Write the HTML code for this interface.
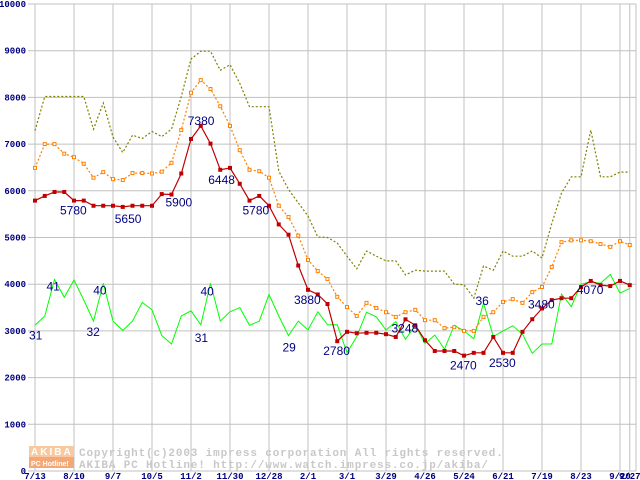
<!DOCTYPE html>
<html><head><meta charset="utf-8"><style>
html,body{margin:0;padding:0;background:#fff;width:640px;height:480px;overflow:hidden}
svg{display:block}
.tk{font-family:"Liberation Mono","DejaVu Sans Mono",monospace;font-size:9px;font-weight:bold;fill:#000080}
.lb{font-family:"Liberation Sans",sans-serif;font-size:12px;fill:#000080}
.wm{font-family:"Liberation Mono",monospace;font-size:11px;font-weight:bold;fill:#c8c8c8;letter-spacing:0.85px}
</style></head><body>
<svg id="chart" width="640" height="480" viewBox="0 0 640 480" xmlns="http://www.w3.org/2000/svg">
<g id="grid"></g>
<g id="wmark">
<rect x="29" y="446" width="45" height="11" fill="#f8c8a0"/>
<rect x="29" y="457" width="45" height="11" fill="#f4a878"/>
<text x="31" y="455" font-family="Liberation Sans,sans-serif" font-size="10" font-weight="bold" fill="#fff" letter-spacing="2">AKIBA</text>
<text x="31" y="466" font-family="Liberation Sans,sans-serif" font-size="7" font-weight="bold" fill="#fff">PC Hotline!</text>
<text class="wm" x="79" y="456">Copyright(c)2003 impress corporation All rights reserved.</text>
<text class="wm" x="79" y="468">AKIBA PC Hotline!  http://www.watch.impress.co.jp/akiba/</text>
</g>
<g id="series"></g>
<g id="labels"></g>
</svg>
<script>
const xLabels=["7/13","8/10","9/7","10/5","11/2","11/30","12/28","2/1","3/1","3/29","4/26","5/24","6/21","7/19","8/23","9/20","9/27"];
const xLabelWeeks=[0,4,8,12,16,20,24,28,32,36,40,44,48,52,56,60,61];
const yTicks=[0,1000,2000,3000,4000,5000,6000,7000,8000,9000,10000];
const redVals=[5790,5890,5975,5975,5790,5790,5680,5680,5680,5655,5680,5680,5680,5930,5920,6370,7110,7390,7010,6450,6490,6150,5790,5890,5680,5280,5060,4400,3880,3780,3576,2780,2980,2950,2960,2960,2930,2870,3248,3120,2800,2570,2570,2570,2470,2530,2530,2870,2530,2530,2980,3250,3480,3660,3700,3700,3940,4070,3980,3960,4070,3980];
const orangeVals=[6490,7000,7000,6795,6720,6580,6280,6400,6250,6230,6380,6380,6370,6410,6600,7300,8100,8370,8180,7810,7390,6870,6450,6420,6280,5680,5440,5040,4520,4280,4110,3730,3510,3320,3600,3490,3400,3300,3400,3450,3230,3230,3060,3080,3000,3000,3300,3400,3620,3680,3600,3830,3940,4370,4900,4940,4940,4920,4860,4800,4920,4840];
const oliveVals=[7290,8020,8020,8020,8020,8020,7320,7880,7150,6820,7190,7120,7270,7160,7320,8020,8820,8990,8990,8580,8700,8300,7800,7800,7800,6420,6030,5740,5460,5010,5000,4880,4600,4330,4710,4600,4500,4500,4200,4300,4280,4280,4280,4000,3990,3700,4390,4300,4710,4600,4600,4710,4560,5300,5950,6300,6300,7300,6300,6300,6400,6400];
const greenVals=[31.2,33.2,41.0,37.2,40.9,36.6,32.1,40.2,32.1,30.1,32.1,36.1,34.5,29.0,27.2,33.2,34.3,31.3,40.2,32.1,34.1,35.0,31.2,32.1,37.8,33.2,29.0,32.1,30.2,34.1,31.3,31.3,25.3,28.8,34.0,33.0,30.2,32.0,28.2,31.2,27.3,29.1,26.1,31.2,30.0,28.3,36.0,28.8,30.0,31.1,29.3,25.2,27.2,27.2,37.9,35.2,40.0,40.5,40.2,42.1,38.1,39.1];
const redLabels=[[4,"5780",-14,14],[9,"5650",-8,16],[14,"5900",-6,12],[17,"7380",-13,-1],[19,"6448",-12,14],[22,"5780",-7,14],[28,"3880",-14,14],[31,"2780",-14,14],[38,"3248",-14,13],[44,"2470",-14,14],[48,"2530",-14,14],[52,"3480",-14,0],[57,"4070",-14,13]];
const greenLabels=[[0,"31",-6,14],[2,"41",-8,11],[6,"32",-7,15],[7,"40",-10,11],[17,"31",-6,17],[18,"40",-10,12],[26,"29",-6,16],[46,"36",-8,2]];

const X=w=>35+w*9.75;
const Y=v=>471-v*0.0467;
const NS="http://www.w3.org/2000/svg";
function mk(tag,attrs,parent){const e=document.createElementNS(NS,tag);for(const k in attrs)e.setAttribute(k,attrs[k]);parent.appendChild(e);return e;}
const grid=document.getElementById('grid');
yTicks.forEach(v=>{
  const l=mk('line',{x1:28,x2:636,y1:Y(v),y2:Y(v),stroke:'#c0c0c0','stroke-width':1},grid);
  
  
  const t=mk('text',{x:26,y:Y(v)+3,'text-anchor':'end',class:'tk'},grid);
  t.textContent=v;
  
  
});
xLabelWeeks.forEach((w,i)=>{
  const l=mk('line',{x1:X(w),x2:X(w),y1:4,y2:471,stroke:'#c0c0c0','stroke-width':1},grid);
  
  
  const t=mk('text',{x:X(w),y:479,'text-anchor':'middle',class:'tk'},grid);
  t.textContent=xLabels[i];
  
  
});
const rb=mk('line',{x1:636,x2:636,y1:4,y2:471,stroke:'#c0c0c0'},grid);


const ser=document.getElementById('series');
function pts(vals,scale){return vals.map((v,i)=>X(i).toFixed(1)+','+Y(v*scale).toFixed(1)).join(' ');}
const ol=mk('polyline',{points:pts(oliveVals,1),fill:'none',stroke:'#808000','stroke-width':1.2,'stroke-dasharray':'2,2'},ser);


const gl=mk('polyline',{points:pts(greenVals,100),fill:'none',stroke:'#00ff00','stroke-width':1},ser);


const orl=mk('polyline',{points:pts(orangeVals,1),fill:'none',stroke:'#ff8000','stroke-width':1.2,'stroke-dasharray':'2,2'},ser);


orangeVals.forEach((v,i)=>{
  const r=mk('rect',{x:X(i)-1.5,y:Y(v)-1.5,width:3,height:3,fill:'#fff',stroke:'#ff8000','stroke-width':1},ser);
  
  
});
const rl=mk('polyline',{points:pts(redVals,1),fill:'none',stroke:'#c00000','stroke-width':1.2},ser);


redVals.forEach((v,i)=>{
  const r=mk('rect',{x:X(i)-2,y:Y(v)-2,width:4,height:4,fill:'#c00000'},ser);
  
  
});
const lab=document.getElementById('labels');
redLabels.forEach(a=>{
  const t=mk('text',{x:X(a[0])+a[2],y:Y(redVals[a[0]])+a[3],class:'lb'},lab);
  t.textContent=a[1];
  
  
});
greenLabels.forEach(a=>{
  const t=mk('text',{x:X(a[0])+a[2],y:Y(greenVals[a[0]]*100)+a[3],class:'lb'},lab);
  t.textContent=a[1];
  
  
});
</script>
</body></html>
